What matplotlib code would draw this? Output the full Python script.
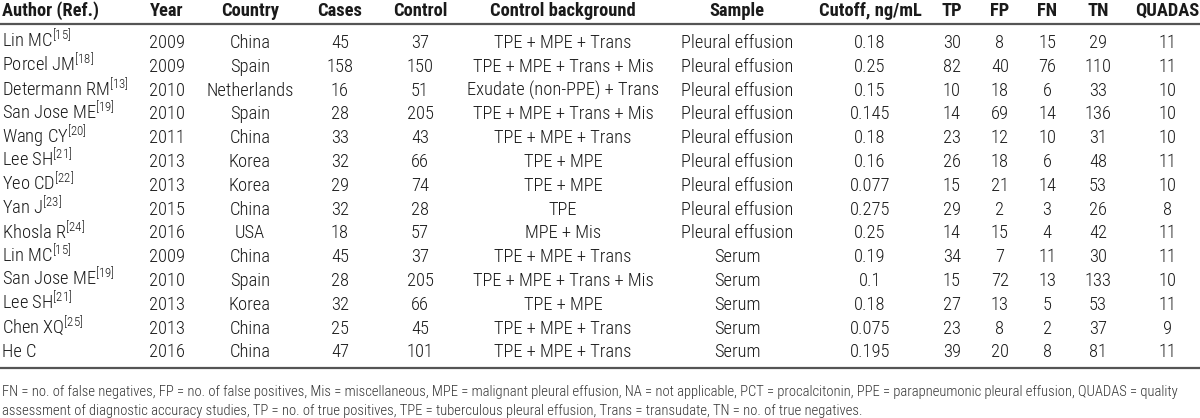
import matplotlib.pyplot as plt

fam = 'Roboto Condensed'
plt.rcParams['font.family'] = [fam, 'Liberation Sans', 'DejaVu Sans']
plt.rcParams['mathtext.fontset'] = 'custom'
plt.rcParams['mathtext.rm'] = fam + ':light'
plt.rcParams['mathtext.it'] = fam + ':light'
plt.rcParams['mathtext.bf'] = fam + ':bold'

# table data
headers = ["Author (Ref.)", "Year", "Country", "Cases", "Control", "Control background",
           "Sample", "Cutoff, ng/mL", "TP", "FP", "FN", "TN", "QUADAS"]
authors = ["Lin MC", "Porcel JM", "Determann RM", "San Jose ME", "Wang CY", "Lee SH", "Yeo CD",
           "Yan J", "Khosla R", "Lin MC", "San Jose ME", "Lee SH", "Chen XQ", "He C"]
refs = ["15", "18", "13", "19", "20", "21", "22", "23", "24", "15", "19", "21", "25", ""]
years = [2009, 2009, 2010, 2010, 2011, 2013, 2013, 2015, 2016, 2009, 2010, 2013, 2013, 2016]
countries = ["China", "Spain", "Netherlands", "Spain", "China", "Korea", "Korea", "China", "USA",
             "China", "Spain", "Korea", "China", "China"]
cases = [45, 158, 16, 28, 33, 32, 29, 32, 18, 45, 28, 32, 25, 47]
controls = [37, 150, 51, 205, 43, 66, 74, 28, 57, 37, 205, 66, 45, 101]
backgrounds = ["TPE + MPE + Trans", "TPE + MPE + Trans + Mis", "Exudate (non-PPE) + Trans",
               "TPE + MPE + Trans + Mis", "TPE + MPE + Trans", "TPE + MPE", "TPE + MPE", "TPE",
               "MPE + Mis", "TPE + MPE + Trans", "TPE + MPE + Trans + Mis", "TPE + MPE",
               "TPE + MPE + Trans", "TPE + MPE + Trans"]
samples = ["Pleural effusion"] * 9 + ["Serum"] * 5
cutoffs = ["0.18", "0.25", "0.15", "0.145", "0.18", "0.16", "0.077", "0.275", "0.25",
           "0.19", "0.1", "0.18", "0.075", "0.195"]
tp = [30, 82, 10, 14, 23, 26, 15, 29, 14, 34, 15, 27, 23, 39]
fp = [8, 40, 18, 69, 12, 18, 21, 2, 15, 7, 72, 13, 8, 20]
fn = [15, 76, 6, 14, 10, 6, 14, 3, 4, 11, 13, 5, 2, 8]
tn = [29, 110, 33, 136, 31, 48, 53, 26, 42, 30, 133, 53, 37, 81]
quadas = [11, 11, 10, 10, 10, 11, 10, 8, 11, 11, 10, 11, 9, 11]

footnote1 = ("FN = no. of false negatives, FP = no. of false positives, Mis = miscellaneous, "
             "MPE = malignant pleural effusion, NA = not applicable, PCT = procalcitonin, "
             "PPE = parapneumonic pleural effusion, QUADAS = quality")
footnote2 = ("assessment of diagnostic accuracy studies, TP = no. of true positives, "
             "TPE = tuberculous pleural effusion, Trans = transudate, TN = no. of true negatives.")

col_x = [2, 167, 250, 340, 420, 563, 737, 870, 952, 1000, 1047, 1098, 1167]
col_ha = ['left'] + ['center'] * 12

fig = plt.figure(figsize=(12, 4.18), dpi=100)
ax = fig.add_axes([0, 0, 1, 1])
ax.set_xlim(0, 1200)
ax.set_ylim(418, 0)
ax.axis('off')

fs = 13.3
for x, ha, h in zip(col_x, col_ha, headers):
    ax.text(x, 16, h, ha=ha, va='baseline', fontsize=fs, fontweight='bold', color='#1a1a1a')

ax.plot([0, 1200], [23.5, 23.5], color='#555555', lw=1.6, solid_capstyle='butt')

columns = [
    [a + (r"$^{[%s]}$" % r if r else "") for a, r in zip(authors, refs)],
    [str(v) for v in years], countries, [str(v) for v in cases], [str(v) for v in controls],
    backgrounds, samples, cutoffs, [str(v) for v in tp], [str(v) for v in fp],
    [str(v) for v in fn], [str(v) for v in tn], [str(v) for v in quadas],
]
for i in range(len(authors)):
    y = 48 + i * 23.8
    for x, ha, col in zip(col_x, col_ha, columns):
        ax.text(x, y, col[i], ha=ha, va='baseline', fontsize=fs, fontweight='light',
                color='#1a1a1a')

ax.plot([0, 1200], [368, 368], color='#555555', lw=1.6, solid_capstyle='butt')

ax.text(2, 396, footnote1, ha='left', va='baseline', fontsize=10.55, fontweight='light',
        color='#333333')
ax.text(2, 415, footnote2, ha='left', va='baseline', fontsize=10.55, fontweight='light',
        color='#333333')

fig.savefig('out.png', dpi=100, facecolor='white')
